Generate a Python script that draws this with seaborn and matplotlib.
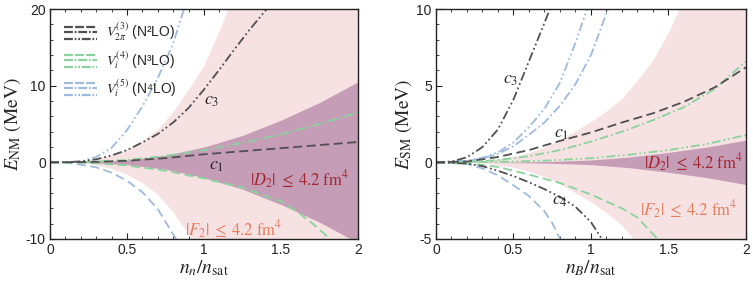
import matplotlib
matplotlib.use("Agg")
import matplotlib.pyplot as plt
import seaborn as sns
from matplotlib.lines import Line2D
from matplotlib.legend_handler import HandlerBase
from matplotlib.ticker import MultipleLocator

# ======================
# DATA
# ======================

# --- neutron matter (left) ---
nm_band_x = [0, 0.1, 0.2, 0.3, 0.4, 0.5, 0.6, 0.7, 0.8, 0.9, 1.0,
             1.1, 1.2, 1.3, 1.4, 1.5, 1.6, 1.7, 1.8, 1.9, 2.0]
nm_f2_half = [0, 0.01, 0.12, 0.4, 0.85, 1.6, 2.7, 4.2, 6.5, 9.4, 12.5,
              17, 22, 28, 34, 42, 50, 60, 70, 82, 95]
nm_d2_x = [0, 0.25, 0.5, 0.75, 1.0, 1.25, 1.5, 1.75, 2.0]
nm_d2_half = [0, 0.03, 0.3, 0.9, 2.0, 3.5, 5.5, 7.8, 10.5]

nm_c3_x = [0, 0.1, 0.2, 0.3, 0.4, 0.5, 0.6, 0.7, 0.8, 0.9, 1.0, 1.1, 1.2, 1.3, 1.42]
nm_c3_y = [0, 0.01, 0.12, 0.4, 0.9, 1.6, 2.6, 3.7, 5.2, 7.1, 9.5, 12.1, 14.8, 17.4, 20.3]
nm_c1_x = [0, 0.25, 0.5, 0.75, 1.0, 1.25, 1.5, 1.75, 2.0]
nm_c1_y = [0, 0.03, 0.2, 0.55, 1.05, 1.45, 1.85, 2.25, 2.65]
nm_n3lo_up_x = [0, 0.25, 0.5, 0.75, 1.0, 1.25, 1.5, 1.75, 2.0]
nm_n3lo_up_y = [0, 0.05, 0.3, 0.85, 1.6, 2.55, 3.65, 5.0, 6.5]
nm_n3lo_dn_x = [0, 0.25, 0.5, 0.75, 1.0, 1.25, 1.5, 1.6, 1.7, 1.82]
nm_n3lo_dn_y = [0, -0.05, -0.4, -1.1, -2.1, -3.3, -5.1, -6.35, -7.9, -10.0]
nm_n4lo_up_x = [0, 0.1, 0.2, 0.3, 0.4, 0.5, 0.6, 0.7, 0.8, 0.87]
nm_n4lo_up_y = [0, 0.01, 0.1, 0.7, 1.9, 4.2, 7.3, 11.0, 15.5, 20.0]
nm_n4lo_dn_x = [0, 0.1, 0.2, 0.3, 0.4, 0.5, 0.6, 0.7, 0.8, 0.82]
nm_n4lo_dn_y = [0, -0.03, -0.3, -0.65, -1.35, -2.4, -3.9, -6.1, -9.4, -10.0]

# --- symmetric matter (right) ---
sm_band_x = nm_band_x
sm_f2_half = [0, 0.005, 0.02, 0.07, 0.2, 0.35, 0.6, 0.95, 1.4, 2.0, 2.6,
              3.3, 4.1, 5.3, 6.6, 8.4, 10.6, 12.8, 15.2, 17.6, 20.0]
sm_d2_x = [0, 0.25, 0.5, 0.75, 1.0, 1.25, 1.5, 1.75, 2.0]
sm_d2_half = [0, 0, 0.02, 0.06, 0.15, 0.35, 0.65, 1.0, 1.45]

sm_c3_x = [0, 0.1, 0.2, 0.3, 0.4, 0.5, 0.6, 0.7, 0.75]
sm_c3_y = [0, 0.05, 0.33, 1.0, 2.15, 4.1, 6.6, 9.1, 10.4]
sm_c1_x = [0, 0.2, 0.4, 0.6, 0.8, 1.0, 1.2, 1.4, 1.6, 1.8, 2.0]
sm_c1_y = [0, 0.05, 0.35, 0.8, 1.4, 1.95, 2.6, 3.2, 3.95, 4.9, 6.2]
sm_c4_x = [0, 0.2, 0.3, 0.4, 0.5, 0.6, 0.7, 0.8, 0.9, 1.0, 1.07]
sm_c4_y = [0, -0.08, -0.25, -0.55, -0.9, -1.3, -1.75, -2.25, -2.9, -3.9, -5.0]
sm_n3lo_a_x = [0, 0.2, 0.4, 0.6, 0.8, 1.0, 1.2, 1.4, 1.6, 1.8, 2.0]
sm_n3lo_a_y = [0, 0.02, 0.15, 0.4, 0.8, 1.35, 2.0, 2.75, 3.6, 4.8, 6.6]
sm_n3lo_b_x = [0, 0.5, 0.75, 1.0, 1.25, 1.5, 1.75, 2.0]
sm_n3lo_b_y = [0, 0.05, 0.13, 0.27, 0.5, 0.8, 1.2, 1.78]
sm_n3lo_dn_x = [0, 0.2, 0.4, 0.6, 0.8, 1.0, 1.2, 1.3, 1.43]
sm_n3lo_dn_y = [0, -0.05, -0.3, -0.8, -1.35, -2.1, -3.0, -3.6, -5.0]
sm_n4lo_a_x = [0, 0.2, 0.3, 0.4, 0.5, 0.6, 0.7, 0.8, 0.9, 0.975]
sm_n4lo_a_y = [0, 0.1, 0.3, 0.65, 1.3, 2.3, 3.5, 5.2, 7.8, 10.0]
sm_n4lo_b_x = [0, 0.2, 0.3, 0.4, 0.5, 0.6, 0.7, 0.8, 0.9, 1.0, 1.11]
sm_n4lo_b_y = [0, 0.08, 0.25, 0.55, 1.05, 1.8, 2.6, 3.7, 5.1, 7.0, 10.0]
sm_n4lo_dn_x = [0, 0.2, 0.3, 0.4, 0.5, 0.6, 0.7, 0.75, 0.8]
sm_n4lo_dn_y = [0, -0.1, -0.4, -0.85, -1.5, -2.2, -3.2, -3.95, -5.0]

# ======================
# STYLE
# ======================

sns.set_theme(style="ticks")
plt.rcParams["font.family"] = ["Liberation Sans", "DejaVu Sans"]
plt.rcParams["mathtext.fontset"] = "stix"
plt.rcParams["axes.unicode_minus"] = False

BLACK = "#505050"
GREEN = "#8ad39c"
BLUE = "#a0bade"
PINK = "#f6e2e2"
MAUVE = "#c59db6"
D2_COL = "#a3262e"
F2_COL = "#e57c5c"

DASH = (5, 2.5)
DASHDOT = (5, 1.6, 1, 1.6)
DASHDOT2 = (5, 1.6, 1, 1.6, 1, 1.6)

LBL = 14      # axis labels
ANN = 12      # in-plot annotations
TICK = 10
LW = 1.3

D2_TXT = r"$|D_2|\;\leq\;4.2\ \rm fm^4$"
F2_TXT = r"$|F_2|\;\leq\;4.2\ \rm fm^4$"


class StackHandler(HandlerBase):
    # three stacked line samples: dashed, dash-dot, dash-dot-dot
    # offsets in points from the centre of the handle box
    def create_artists(self, legend, orig_handle, xdescent, ydescent,
                       width, height, fontsize, trans):
        out = []
        yc = height / 2 - ydescent
        for dash, off in zip([(4, 1.0), (4, 0.8, 0.8, 0.8), (4, 0.8, 0.8, 0.8, 0.8, 0.8)],
                             [4.0, 0.8, -4.6]):
            out.append(Line2D([-xdescent, width - xdescent], [yc + off, yc + off],
                              color=orig_handle.get_color(), lw=1.6,
                              dashes=dash, transform=trans))
        return out


fig = plt.figure(figsize=(7.53, 2.82), dpi=100)
ax1 = fig.add_axes([0.0664, 0.1525, 0.409, 0.8155])
ax2 = fig.add_axes([0.579, 0.1525, 0.4117, 0.8155])

# ======================
# LEFT: NEUTRON MATTER
# ======================

ax1.fill_between(nm_band_x, nm_f2_half, [-v for v in nm_f2_half], color=PINK, lw=0)
ax1.fill_between(nm_d2_x, nm_d2_half, [-v for v in nm_d2_half], color=MAUVE, lw=0)

nm_curves = [
    (nm_n4lo_up_x, nm_n4lo_up_y, BLUE, DASHDOT2),
    (nm_n4lo_dn_x, nm_n4lo_dn_y, BLUE, DASH),
    (nm_n3lo_up_x, nm_n3lo_up_y, GREEN, DASHDOT),
    (nm_n3lo_dn_x, nm_n3lo_dn_y, GREEN, DASH),
    (nm_c3_x, nm_c3_y, BLACK, DASHDOT2),
    (nm_c1_x, nm_c1_y, BLACK, DASH),
]
for xs, ys, col, dsh in nm_curves:
    sns.lineplot(x=xs, y=ys, ax=ax1, color=col, lw=LW, dashes=dsh)

ax1.text(1.05, 8.1, r"$c_3$", fontsize=ANN + 1, ha="center", va="center")
ax1.text(1.08, -0.4, r"$c_1$", fontsize=ANN + 1, ha="center", va="center")
ax1.text(1.62, -2.3, D2_TXT, fontsize=ANN, color=D2_COL, ha="center", va="center")
ax1.text(1.19, -8.8, F2_TXT, fontsize=ANN, color=F2_COL, ha="center", va="center")

ax1.set_xlim(0, 2)
ax1.set_ylim(-10, 20)
ax1.yaxis.set_major_locator(MultipleLocator(10))
ax1.yaxis.set_minor_locator(MultipleLocator(2))
ax1.set_xlabel(r"$n_n/n_{\rm sat}$", fontsize=LBL, labelpad=1)
ax1.set_ylabel(r"$E_{\rm NM}\ \rm (MeV)$", fontsize=LBL, labelpad=2)

handles = [Line2D([], [], color=BLACK), Line2D([], [], color=GREEN),
           Line2D([], [], color=BLUE)]
labels = [r"$V^{(3)}_{2\pi}$ (N²LO)", r"$V^{(4)}_{i}$ (N³LO)",
          r"$V^{(5)}_{i}$ (N⁴LO)"]
ax1.legend(handles, labels, handler_map={Line2D: StackHandler()},
           loc="upper left", bbox_to_anchor=(0.045, 0.95), frameon=False,
           fontsize=10, handlelength=2.4, handleheight=1.2, handletextpad=0.6,
           labelspacing=0.45, borderpad=0, borderaxespad=0)

# ======================
# RIGHT: SYMMETRIC MATTER
# ======================

ax2.fill_between(sm_band_x, sm_f2_half, [-v for v in sm_f2_half], color=PINK, lw=0)
ax2.fill_between(sm_d2_x, sm_d2_half, [-v for v in sm_d2_half], color=MAUVE, lw=0)

sm_curves = [
    (sm_n4lo_a_x, sm_n4lo_a_y, BLUE, DASHDOT2),
    (sm_n4lo_b_x, sm_n4lo_b_y, BLUE, DASHDOT),
    (sm_n4lo_dn_x, sm_n4lo_dn_y, BLUE, DASH),
    (sm_n3lo_a_x, sm_n3lo_a_y, GREEN, DASHDOT),
    (sm_n3lo_b_x, sm_n3lo_b_y, GREEN, DASHDOT2),
    (sm_n3lo_dn_x, sm_n3lo_dn_y, GREEN, DASH),
    (sm_c3_x, sm_c3_y, BLACK, DASHDOT2),
    (sm_c1_x, sm_c1_y, BLACK, DASH),
    (sm_c4_x, sm_c4_y, BLACK, DASHDOT2),
]
for xs, ys, col, dsh in sm_curves:
    sns.lineplot(x=xs, y=ys, ax=ax2, color=col, lw=LW, dashes=dsh)

ax2.text(0.48, 5.4, r"$c_3$", fontsize=ANN + 1, ha="center", va="center")
ax2.text(0.81, 1.9, r"$c_1$", fontsize=ANN + 1, ha="center", va="center")
ax2.text(0.8, -2.46, r"$c_4$", fontsize=ANN + 1, ha="center", va="center")
ax2.text(1.66, 0.0, D2_TXT, fontsize=ANN, color=D2_COL, ha="center", va="center")
ax2.text(1.63, -3.1, F2_TXT, fontsize=ANN, color=F2_COL, ha="center", va="center")

ax2.set_xlim(0, 2)
ax2.set_ylim(-5, 10)
ax2.yaxis.set_major_locator(MultipleLocator(5))
ax2.yaxis.set_minor_locator(MultipleLocator(1))
ax2.set_xlabel(r"$n_B/n_{\rm sat}$", fontsize=LBL, labelpad=1)
ax2.set_ylabel(r"$E_{\rm SM}\ \rm (MeV)$", fontsize=LBL, labelpad=2)

for ax in (ax1, ax2):
    ax.xaxis.set_minor_locator(MultipleLocator(0.1))
    ax.set_xticks([0, 0.5, 1, 1.5, 2])
    ax.set_xticklabels(["0", "0.5", "1", "1.5", "2"])
    ax.tick_params(which="both", direction="in", top=True, right=True,
                   labelsize=TICK, colors="#222222", pad=3)
    ax.tick_params(which="major", length=4, width=0.8)
    ax.tick_params(which="minor", length=2, width=0.6)
    for sp in ax.spines.values():
        sp.set_linewidth(1.0)
        sp.set_color("#222222")

fig.savefig("out.png", dpi=100)
